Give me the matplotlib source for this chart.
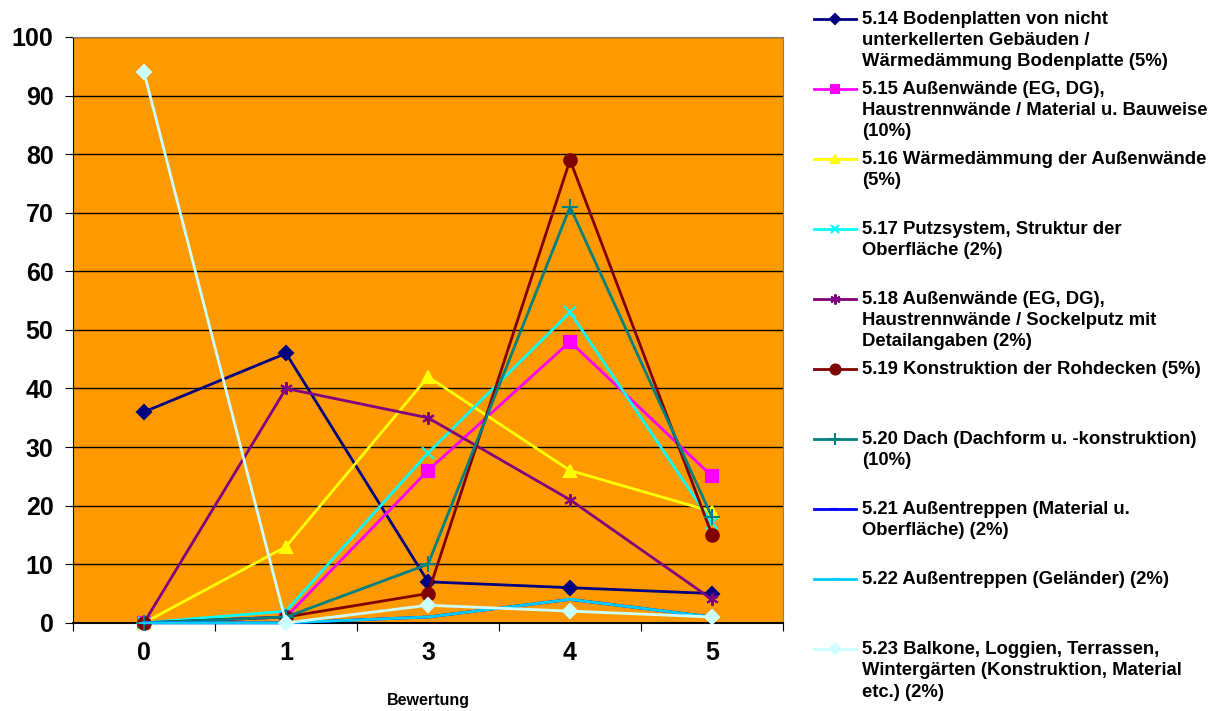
import numpy as np
import matplotlib.pyplot as plt
from matplotlib.lines import Line2D

plt.rcParams['font.family'] = ['Liberation Sans', 'DejaVu Sans']
plt.rcParams['font.weight'] = 'bold'

categories = ['0', '1', '3', '4', '5']

labels = [
    '5.14 Bodenplatten von nicht\nunterkellerten Gebäuden /\nWärmedämmung Bodenplatte (5%)',
    '5.15 Außenwände (EG, DG),\nHaustrennwände / Material u. Bauweise\n(10%)',
    '5.16 Wärmedämmung der Außenwände\n(5%)',
    '5.17 Putzsystem, Struktur der\nOberfläche (2%)',
    '5.18 Außenwände (EG, DG),\nHaustrennwände / Sockelputz mit\nDetailangaben (2%)',
    '5.19 Konstruktion der Rohdecken (5%)',
    '5.20 Dach (Dachform u. -konstruktion)\n(10%)',
    '5.21 Außentreppen (Material u.\nOberfläche) (2%)',
    '5.22 Außentreppen (Geländer) (2%)',
    '5.23 Balkone, Loggien, Terrassen,\nWintergärten (Konstruktion, Material\netc.) (2%)',
]

s514 = [36, 46, 7, 6, 5]
s515 = [0, 1, 26, 48, 25]
s516 = [0, 13, 42, 26, 19]
s517 = [0, 2, 29, 53, 17]
s518 = [0, 40, 35, 21, 4]
s519 = [0, 1, 5, 79, 15]
s520 = [0, 1, 10, 71, 18]
s521 = [0, 0, 1, 4, 1]
s522 = [0, 0, 1, 4, 1]
s523 = [94, 0, 3, 2, 1]

series = [s514, s515, s516, s517, s518, s519, s520, s521, s522, s523]
colors = ['#000080', '#FF00FF', '#FFFF00', '#00FFFF', '#800080',
          '#800000', '#008080', '#0000FF', '#00CCFF', '#CCFFFF']
markers = ['D', 's', '^', 'x', (6, 2, 0), 'o', '+', '_', '_', 'D']
msizes = [7, 8, 8, 8, 9, 9, 11, 7, 7, 7]

fig = plt.figure(figsize=(12.16, 7.11), dpi=100)
ax = fig.add_axes([0.060, 0.124, 0.584, 0.824])
ax.set_facecolor('#FF9900')

x = np.arange(len(categories))
for vals, c, m, ms in zip(series, colors, markers, msizes):
    ax.plot(x, vals, color=c, lw=2, marker=m, ms=ms, mec=c, mfc=c, mew=1.5,
            clip_on=False, zorder=3)

ax.set_xlim(-0.5, 4.5)
ax.set_ylim(0, 100)
ax.set_yticks(np.arange(0, 101, 10))
ax.yaxis.grid(True, color='black', lw=1)
ax.set_axisbelow(True)
ax.set_xticks(np.arange(-0.5, 5, 1))
ax.set_xticklabels([])
ax.set_xticks(x, minor=True)
ax.set_xticklabels(categories, minor=True)
ax.tick_params(axis='x', which='minor', length=0, pad=13, labelsize=18)
ax.tick_params(axis='x', which='major', length=6, direction='out', color='black')
ax.tick_params(axis='y', length=6, direction='out', labelsize=18, pad=8)
for lab in ax.get_xticklabels(minor=True) + ax.get_yticklabels():
    lab.set_fontweight('bold')

ax.spines['left'].set_color('black')
ax.spines['bottom'].set_color('black')
ax.spines['bottom'].set_linewidth(1.5)
ax.spines['top'].set_color('#808080')
ax.spines['right'].set_color('#808080')

ax.set_xlabel('Bewertung', fontsize=11.5, fontweight='bold', labelpad=20)

# legend drawn entry by entry, Excel style (fixed slot height, marker on first line)
for i, (lab, c, m, ms) in enumerate(zip(labels, colors, markers, msizes)):
    yy = 0.973 - i * 0.0985
    fig.add_artist(Line2D([0.669, 0.704], [yy, yy], color=c, lw=2,
                          transform=fig.transFigure))
    fig.add_artist(Line2D([0.6865], [yy], color=c, marker=m, ms=ms * 0.8,
                          mfc=c, mec=c, mew=1.5, transform=fig.transFigure))
    fig.text(0.709, yy + 0.0115, lab, fontsize=13.3, fontweight='bold', va='top',
             linespacing=1.32, transform=fig.transFigure)

fig.savefig('out.png', dpi=100)
